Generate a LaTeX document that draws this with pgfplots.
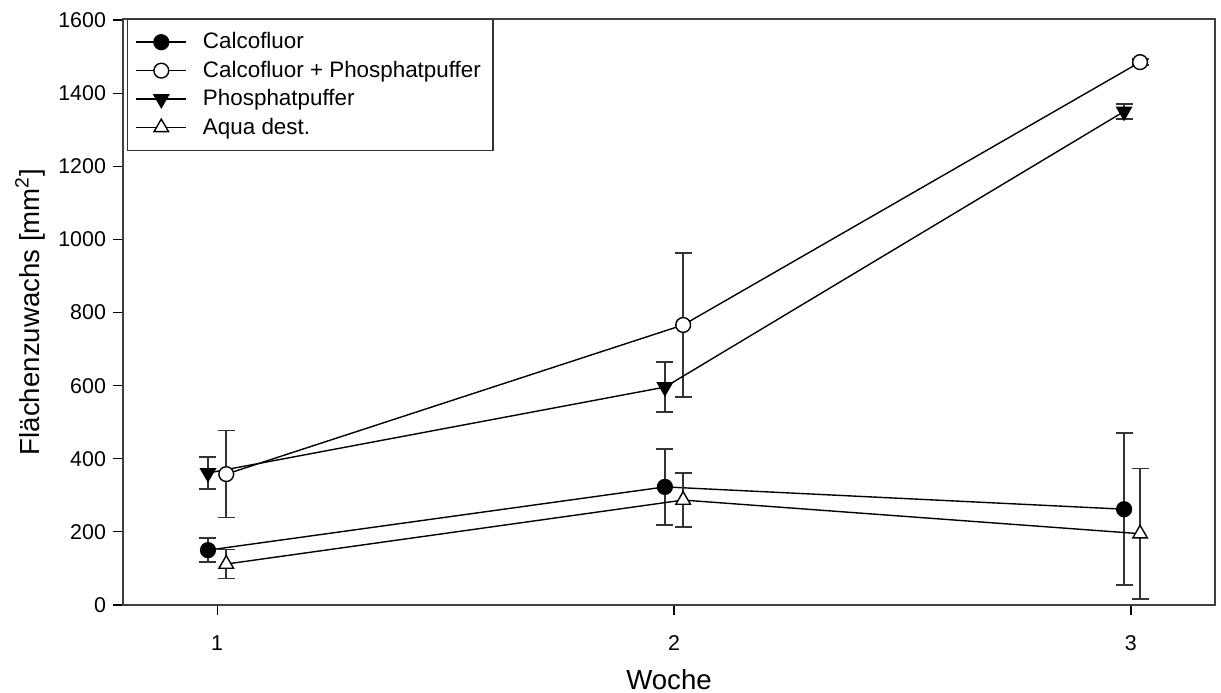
\documentclass[border=0pt]{standalone}
\usepackage{pgfplots}
\pgfplotsset{compat=1.18}
\usepackage{fontspec}
\setmainfont{Liberation Sans}
\begin{document}
\begin{tikzpicture}
\begin{axis}[
  name=ax,
  scale only axis,
  width=546pt, height=293pt,
  xmin=0.794, xmax=3.184,
  ymin=0, ymax=1603,
  xtick={1,2,3},
  ytick={0,200,...,1600},
  tick pos=left,
  tick align=outside,
  major tick length=5pt,
  every tick/.style={black, line width=0.6pt},
  axis line style={line width=0.8pt, black!75},
  /pgf/number format/assume math mode=true,
  /pgf/number format/1000 sep={},
  tick label style={font=\fontsize{10.7}{12}\selectfont},
  xticklabel style={yshift=-7pt},
  every axis y label/.style={at={(rel axis cs:0,0.5)}, xshift=-46.5pt, rotate=90, anchor=center},
  every axis x label/.style={at={(rel axis cs:0.5,0)}, yshift=-37.5pt, anchor=center},
  label style={font=\fontsize{13.8}{16}\selectfont},
  xlabel={Woche},
  ylabel={Flächenzuwachs [mm\textsuperscript{2}]},
  clip=false,
  legend cell align=left,
  legend style={at={(rel axis cs:0,1)}, anchor=north west, xshift=2pt,
    draw=black!80, line width=0.6pt, font=\fontsize{11.2}{14}\selectfont,
    inner xsep=4pt, inner ysep=4.5pt, row sep=0.6pt,
    /tikz/every odd column/.append style={column sep=6pt}},
  legend image code/.code={\draw[mark repeat=2,mark phase=2] plot coordinates {(0pt,0pt)(12.5pt,0pt)(25pt,0pt)};},
  error bars/error bar style={line width=0.8pt, black!80},
  error bars/error mark options={rotate=90, mark size=4.25pt, line width=0.8pt, black!80},
]
\addplot[black, line width=0.7pt, mark=*, mark size=3.7pt, mark options={fill=black},
  error bars/.cd, y dir=both, y explicit]
  coordinates {(0.98,150) +- (0,33) (1.98,323) +- (0,104) (2.985,262) +- (0,208)};
\addlegendentry{Calcofluor}
\addplot[black, line width=0.7pt, mark=*, mark size=3.7pt, mark options={fill=white},
  error bars/.cd, y dir=both, y explicit]
  coordinates {(1.02,358) +- (0,119) (2.02,766) +- (0,197) (3.02,1485) +- (0,8)};
\addlegendentry{Calcofluor + Phosphatpuffer}
\addplot[black, line width=0.7pt, mark=triangle*, mark size=4.2pt, mark options={fill=black, rotate=180},
  error bars/.cd, y dir=both, y explicit]
  coordinates {(0.98,361) +- (0,44) (1.98,596) +- (0,68) (2.985,1350) +- (0,20)};
\addlegendentry{Phosphatpuffer}
\addplot[black, line width=0.7pt, mark=triangle*, mark size=4.2pt, mark options={fill=white},
  error bars/.cd, y dir=both, y explicit]
  coordinates {(1.02,112) +- (0,40) (2.02,287) +- (0,74) (3.02,195) +- (0,178)};
\addlegendentry{Aqua dest.}
\end{axis}
\pgfresetboundingbox
\path (ax.south west) ++(-61.5pt,-44pt) coordinate (bl);
\path (ax.north east) ++(3pt,9.5pt) coordinate (tr);
\path[use as bounding box] (bl) rectangle (tr);
\end{tikzpicture}
\end{document}
